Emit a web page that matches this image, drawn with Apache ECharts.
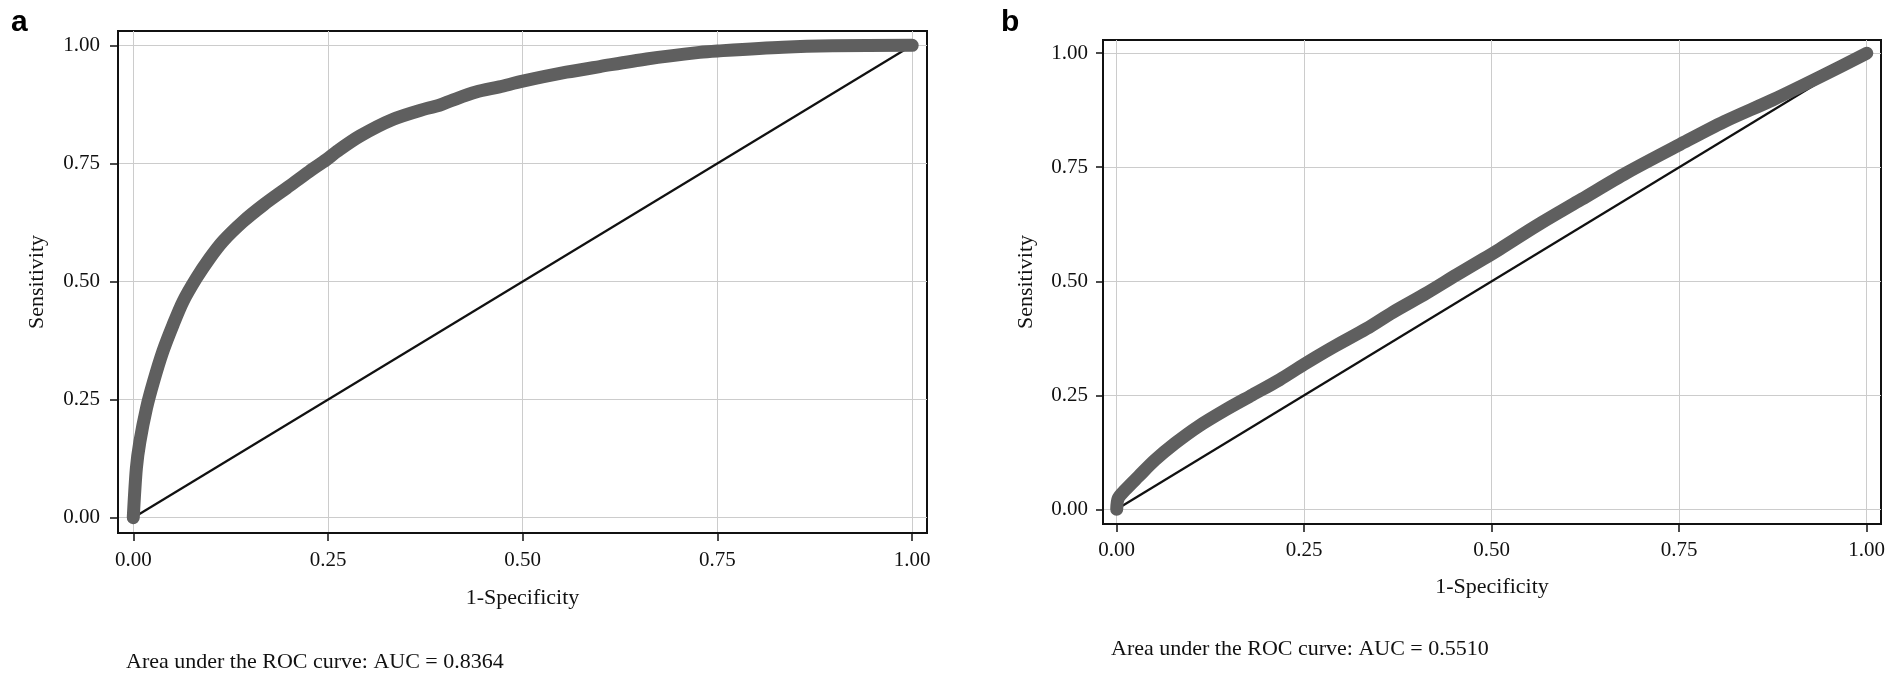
<!DOCTYPE html>
<html>
<head>
<meta charset="utf-8">
<title>ROC curves</title>
<script src="https://cdn.jsdelivr.net/npm/echarts@6/dist/echarts.min.js"></script>
<style>
  html, body { margin: 0; padding: 0; background: #fff; }
  #main { width: 1902px; height: 688px; }
</style>
</head>
<body>
<div id="main"></div>
<script>
// panel a: 1-specificity / sensitivity
var fprA = [0, 0.004, 0.0085, 0.017, 0.026, 0.038, 0.051, 0.064, 0.081, 0.098, 0.115, 0.141, 0.167, 0.197, 0.226, 0.248, 0.262, 0.291, 0.333, 0.376, 0.393, 0.41, 0.44, 0.47, 0.5, 0.556, 0.599, 0.659, 0.727, 0.75, 0.834, 0.898, 1.0];
var tprA = [0, 0.105, 0.161, 0.232, 0.288, 0.352, 0.408, 0.458, 0.507, 0.549, 0.585, 0.627, 0.662, 0.698, 0.733, 0.758, 0.776, 0.808, 0.843, 0.866, 0.873, 0.884, 0.901, 0.912, 0.924, 0.943, 0.955, 0.971, 0.985, 0.988, 0.996, 0.999, 1.0];

// panel b
var fprB = [0, 0.002, 0.011, 0.029, 0.051, 0.078, 0.109, 0.145, 0.181, 0.217, 0.25, 0.288, 0.333, 0.368, 0.413, 0.453, 0.489, 0.511, 0.56, 0.62, 0.68, 0.751, 0.81, 0.875, 0.94, 1.0];
var tprB = [0, 0.024, 0.042, 0.072, 0.108, 0.145, 0.182, 0.218, 0.251, 0.284, 0.318, 0.355, 0.396, 0.432, 0.474, 0.514, 0.549, 0.571, 0.622, 0.68, 0.738, 0.8, 0.85, 0.898, 0.95, 1.0];

var refLine = [[0, 0], [1, 1]];
var tickValues = [0, 0.25, 0.5, 0.75, 1];
var aucA = 'Area under the ROC curve: AUC = 0.8364';
var aucB = 'Area under the ROC curve: AUC = 0.5510';

var serif = '"Liberation Serif", "Times New Roman", serif';

function pairs(xs, ys) {
    return xs.map(function (x, i) { return [x, ys[i]]; });
}

function xAxisFor(idx, min, max, margin, gap) {
    return {
        type: 'value', gridIndex: idx, min: min, max: max,
        name: '1-Specificity', nameLocation: 'middle', nameGap: gap,
        nameTextStyle: { fontFamily: serif, fontSize: 22, color: '#111' },
        axisLine: { show: true, onZero: false, lineStyle: { color: '#111', width: 2 } },
        axisTick: { show: true, length: 8, customValues: tickValues, lineStyle: { color: '#111', width: 1.5 } },
        axisLabel: {
            customValues: tickValues, margin: margin,
            fontFamily: serif, fontSize: 21, color: '#111',
            formatter: function (v) { return v.toFixed(2); }
        },
        splitLine: { show: true, lineStyle: { color: '#cccccc', width: 1 } }
    };
}

function yAxisFor(idx, min, max, margin, gap, tick) {
    return {
        type: 'value', gridIndex: idx, min: min, max: max,
        name: 'Sensitivity', nameLocation: 'middle', nameGap: gap,
        nameTextStyle: { fontFamily: serif, fontSize: 22, color: '#111' },
        axisLine: { show: true, onZero: false, lineStyle: { color: '#111', width: 2 } },
        axisTick: { show: true, length: tick, customValues: tickValues, lineStyle: { color: '#111', width: 1.5 } },
        axisLabel: {
            customValues: tickValues, margin: margin,
            fontFamily: serif, fontSize: 21, color: '#111',
            formatter: function (v) { return v.toFixed(2); }
        },
        splitLine: { show: true, lineStyle: { color: '#cccccc', width: 1 } }
    };
}

function curve(idx, data) {
    return {
        type: 'line', xAxisIndex: idx, yAxisIndex: idx, data: data,
        showSymbol: false, smooth: 0.3, z: 3, silent: true,
        lineStyle: { color: '#5f5f5f', width: 13, cap: 'round', join: 'round' }
    };
}

function diagonal(idx) {
    return {
        type: 'line', xAxisIndex: idx, yAxisIndex: idx, data: refLine,
        showSymbol: false, z: 2, silent: true,
        lineStyle: { color: '#111', width: 2.2 }
    };
}

var myChart = echarts.init(document.getElementById('main'), null, { renderer: 'canvas' });
var option = {
    backgroundColor: '#fff',
    animation: false,
    title: [
        { text: 'a', left: 6, top: 3, textStyle: { fontFamily: '"Liberation Sans", Arial, sans-serif', fontWeight: 'bold', fontSize: 30, color: '#000' } },
        { text: 'b', left: 996, top: 3, textStyle: { fontFamily: '"Liberation Sans", Arial, sans-serif', fontWeight: 'bold', fontSize: 30, color: '#000' } },
        { text: aucA, left: 121, top: 646, textStyle: { fontFamily: serif, fontWeight: 'normal', fontSize: 22, color: '#111' } },
        { text: aucB, left: 1106, top: 633, textStyle: { fontFamily: serif, fontWeight: 'normal', fontSize: 22, color: '#111' } }
    ],
    grid: [
        { left: 118, top: 31, width: 809, height: 502, show: true, borderColor: '#111', borderWidth: 2, backgroundColor: 'transparent' },
        { left: 1103, top: 40, width: 778, height: 484, show: true, borderColor: '#111', borderWidth: 2, backgroundColor: 'transparent' }
    ],
    xAxis: [
        xAxisFor(0, -0.0196, 1.019, 17, 54),
        xAxisFor(1, -0.0183, 1.019, 16, 52)
    ],
    yAxis: [
        yAxisFor(0, -0.0324, 1.0303, 18, 70, 8),
        yAxisFor(1, -0.0322, 1.029, 15, 66, 7)
    ],
    series: [
        diagonal(0),
        curve(0, pairs(fprA, tprA)),
        diagonal(1),
        curve(1, pairs(fprB, tprB))
    ]
};
myChart.setOption(option);
</script>
</body>
</html>
